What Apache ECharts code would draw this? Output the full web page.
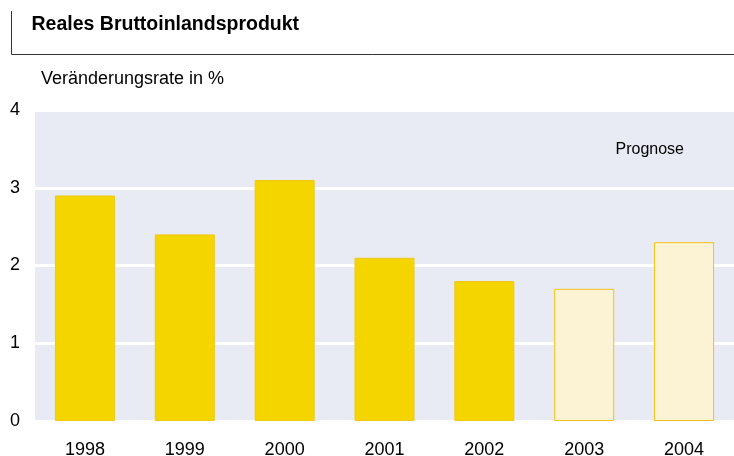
<!DOCTYPE html>
<html>
<head>
<meta charset="utf-8">
<script src="https://cdn.jsdelivr.net/npm/echarts@6/dist/echarts.min.js"></script>
<style>
  html, body { margin: 0; padding: 0; background: #fff; }
  #chart { width: 734px; height: 456px; }
</style>
</head>
<body>
<div id="chart"></div>
<script>
const years = ["1998", "1999", "2000", "2001", "2002", "2003", "2004"];
const growthRate = [2.9, 2.4, 3.1, 2.1, 1.8, 1.7, 2.3];
const isForecast = [false, false, false, false, false, true, true];
const yTicks = [0, 1, 2, 3, 4];

const FONT = "'Liberation Sans', Arial, sans-serif";

const chart = echarts.init(document.getElementById("chart"));

// actual years solid yellow, forecast years pale
const barData = growthRate.map((v, i) => ({
  value: v,
  itemStyle: isForecast[i]
    ? { color: "#fcf2d4", borderColor: "#f3c21a", borderWidth: 1 }
    : { color: "#f5d500", borderColor: "#efc716", borderWidth: 1 },
}));

chart.setOption({
  animation: false,
  textStyle: { fontFamily: FONT },
  grid: {
    left: 35,
    right: 0,
    top: 110,
    bottom: 35,
    show: true,
    backgroundColor: "#e8ebf4",
    borderWidth: 0,
    containLabel: false,
    outerBoundsMode: "none",
  },
  xAxis: {
    type: "category",
    data: years,
    axisLine: { show: false },
    axisTick: { show: false },
    axisLabel: { color: "#000", fontSize: 18, fontFamily: FONT, margin: 20 },
  },
  yAxis: {
    type: "value",
    min: yTicks[0],
    max: yTicks[yTicks.length - 1],
    interval: 1,
    axisLine: { show: false },
    axisTick: { show: false },
    axisLabel: { color: "#000", fontSize: 18, fontFamily: FONT, margin: 15 },
    splitLine: { lineStyle: { color: "#ffffff", width: 3 } },
  },
  series: [
    {
      type: "bar",
      data: barData,
      barWidth: 60,
    },
  ],
  graphic: [
    {
      type: "polyline",
      shape: { points: [[11.5, 11], [11.5, 54.5], [734, 54.5]] },
      style: { stroke: "#333", lineWidth: 1, fill: null },
    },
    {
      type: "text",
      x: 31.5,
      y: 24.7,
      style: { text: "Reales Bruttoinlandsprodukt", font: "bold 19.5px " + FONT, fill: "#000", verticalAlign: "middle" },
    },
    {
      type: "text",
      x: 41,
      y: 79.2,
      style: { text: "Veränderungsrate in %", font: "18px " + FONT, fill: "#000", verticalAlign: "middle" },
    },
    {
      type: "text",
      x: 615.5,
      y: 150,
      style: { text: "Prognose", font: "16px " + FONT, fill: "#000", verticalAlign: "middle" },
    },
  ],
});

window.addEventListener("resize", () => {
  chart.resize();
});
</script>
</body>
</html>
